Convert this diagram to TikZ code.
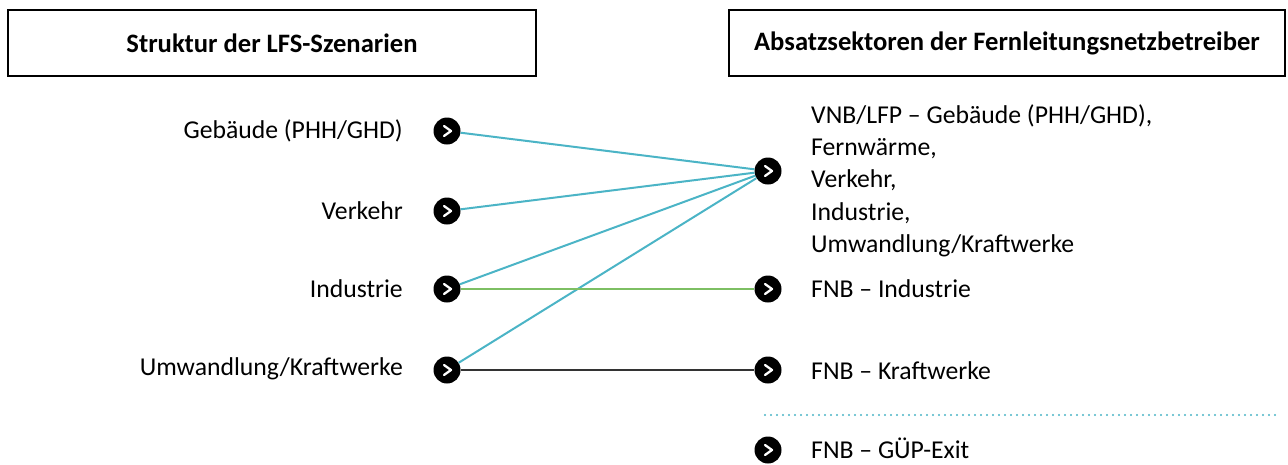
\documentclass[tikz,border=0pt]{standalone}
\usepackage{fontspec}
\setmainfont{Carlito}
\definecolor{teal}{HTML}{4BB4C6}
\definecolor{lgreen}{HTML}{7DBF63}
\definecolor{dgray}{HTML}{333333}
\begin{document}
\begin{tikzpicture}[x=1pt,y=-1pt,
  circ/.style={circle,fill=black,minimum size=27pt,inner sep=0pt,
    path picture={\draw[white,line width=2.3pt,line cap=round,line join=round]
      ([shift={(-3pt,5pt)}]path picture bounding box.center) -- ++(7pt,-5pt) -- ++(-7pt,-5pt);}},
  ltxt/.style={anchor=east,inner sep=0pt,font=\fontsize{25.7}{30}\selectfont},
  rtxt/.style={anchor=west,inner sep=0pt,font=\fontsize{25.7}{30}\selectfont},
  title/.style={draw,line width=2pt,minimum height=66pt,inner sep=0pt,font=\bfseries\fontsize{26.6}{30}\selectfont},
  tealline/.style={draw=teal,line width=2pt},
]
\useasboundingbox (0,0) rectangle (1288,464);
\node[title,minimum width=528pt] (t1) at (272,43) {Struktur der LFS-Szenarien};
\node[title,minimum width=556pt] (t2) at (1007,43) {Absatzsektoren der Fernleitungsnetzbetreiber};

\node[circ] (l1) at (447,131) {};
\node[circ] (l2) at (447,211) {};
\node[circ] (l3) at (447,289) {};
\node[circ] (l4) at (447,370) {};
\node[circ] (r1) at (768,171) {};
\node[circ] (r2) at (768,289) {};
\node[circ] (r3) at (768,370) {};
\node[circ] (r4) at (768,450) {};

\node[ltxt] (a1) at (403,131) {Gebäude (PHH/GHD)};
\node[ltxt] (a2) at (403,211) {Verkehr};
\node[ltxt] (a3) at (403,289) {Industrie};
\node[ltxt] (a4) at (403,369) {Umwandlung/Kraftwerke};

\node[rtxt,anchor=north west,align=left,font=\fontsize{25.7}{32.4}\selectfont] (b1) at (811,104)
  {VNB/LFP – Gebäude (PHH/GHD),\\Fernwärme,\\Verkehr,\\Industrie,\\Umwandlung/Kraftwerke};
\node[rtxt] (b2) at (811,289) {FNB – Industrie};
\node[rtxt] (b3) at (811,371) {FNB – Kraftwerke};
\node[rtxt] (b4) at (811,448) {FNB – GÜP-Exit};

\draw[tealline] (l1) -- (r1);
\draw[tealline] (l2) -- (r1);
\draw[tealline] (l3) -- (r1);
\draw[tealline] (l4) -- (r1);
\draw[draw=lgreen,line width=1.3pt] (l3) -- (r2);
\draw[draw=dgray,line width=1.6pt] (l4) -- (r3);

\coordinate (d1) at (765,415);
\coordinate (d2) at (1278,415);
\draw[teal,line width=2.4pt,dash pattern=on 0pt off 6pt,line cap=round] (d1) -- (d2);
\end{tikzpicture}
\end{document}
